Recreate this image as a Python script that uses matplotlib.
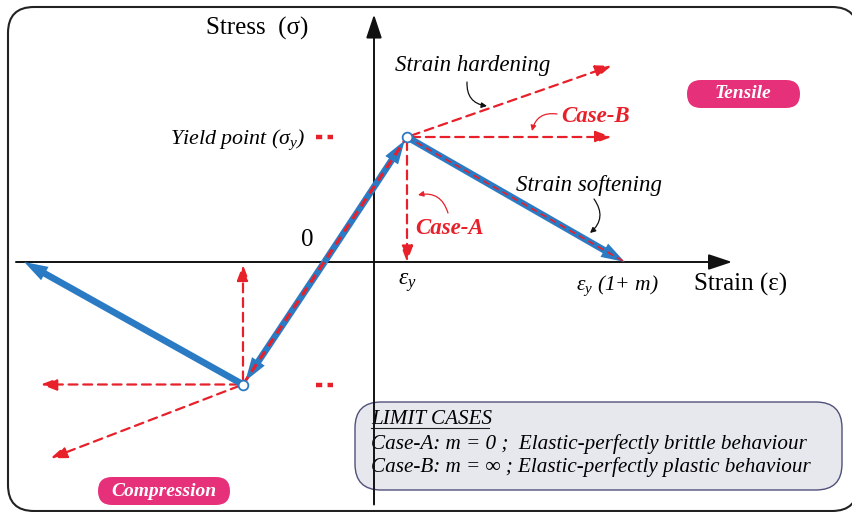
import matplotlib.pyplot as plt
from matplotlib.patches import FancyBboxPatch

plt.rcParams['font.family'] = ['Liberation Serif', 'DejaVu Serif']
plt.rcParams['mathtext.fontset'] = 'custom'
plt.rcParams['mathtext.rm'] = 'Liberation Serif'
plt.rcParams['mathtext.it'] = 'Liberation Serif:italic'

BLUE = '#2a7bc4'
RED = '#e8202a'
PINK = '#e6307a'

# strain in units of eps_y, stress in units of sigma_y
eps_y = 1.0
sig_y = 1.0
m = 6.6
eps_soft_end = eps_y * (1 + m)

comp_point = (-3.97, -0.98)
elastic_cross = (-1.5, 0.0)
comp_soft_end = (-10.6, 0.0)
caseB_end = (7.2, sig_y)
harden_end = (7.2, 1.57)
comp_caseB_end = (-10.1, -0.98)
comp_harden_end = (-9.8, -1.57)
comp_caseA_end = (-3.97, -0.02)

x_axis = (-10.85, 10.85)
y_axis = (-1.94, 1.98)
yield_tick = (-1.76, -1.24)

fig = plt.figure(figsize=(8.52, 5.12), dpi=100)

# decoration layer in picture pixels
deco = fig.add_axes([0, 0, 1, 1])
deco.set_xlim(0, 852)
deco.set_ylim(512, 0)
deco.axis('off')

ax = fig.add_axes([0, 0, 1, 1])
ax.set_xlim(-374 / 33, (852 - 374) / 33)
ax.set_ylim(-(512 - 262) / 125, 262 / 125)
ax.axis('off')
ax.patch.set_alpha(0)

# frame
deco.add_patch(FancyBboxPatch((8, 7), 850, 504, boxstyle='round,pad=0,rounding_size=26',
                              fc='white', ec='#222222', lw=1.5))

# axes
for xy, xytext in [((x_axis[1], 0), (x_axis[0], 0)), ((0, y_axis[1]), (0, y_axis[0]))]:
    ax.annotate('', xy=xy, xytext=xytext,
                arrowprops=dict(arrowstyle='-|>,head_length=0.9,head_width=0.3',
                                color='#111111', lw=1.4, mutation_scale=16,
                                shrinkA=0, shrinkB=0))

red_dash = (0, (4, 2.6))


def red_arrow(start, end):
    ax.annotate('', xy=end, xytext=start,
                arrowprops=dict(arrowstyle='-|>,head_length=0.8,head_width=0.3', color=RED,
                                lw=1.6, linestyle=red_dash, mutation_scale=12,
                                shrinkA=3, shrinkB=0))


# dashed limit branches
red_arrow((eps_y, sig_y), (eps_y, 0))
red_arrow((eps_y, sig_y), caseB_end)
red_arrow((eps_y, sig_y), harden_end)
red_arrow(comp_point, comp_caseA_end)
red_arrow(comp_point, comp_caseB_end)
red_arrow(comp_point, comp_harden_end)


def blue_arrow(start, end, shrink_end=0):
    ax.annotate('', xy=end, xytext=start,
                arrowprops=dict(arrowstyle='simple,head_length=0.85,head_width=0.55,'
                                           'tail_width=0.24',
                                fc=BLUE, ec='none', lw=0, mutation_scale=20,
                                shrinkA=0, shrinkB=shrink_end))


# blue main path
blue_arrow(elastic_cross, (eps_y, sig_y), shrink_end=3)
blue_arrow(elastic_cross, comp_point, shrink_end=3)
blue_arrow((eps_y, sig_y), (eps_soft_end, 0))
blue_arrow(comp_point, comp_soft_end)

# red overlay on the blue path
ax.plot([comp_point[0], eps_y], [comp_point[1], sig_y], color=RED, lw=2.2,
        linestyle=(0, (3, 2)), zorder=4)
ax.plot([eps_y, eps_soft_end], [sig_y, 0], color=RED, lw=1.2, linestyle=red_dash, zorder=4)

# yield level ticks
for level in (sig_y, comp_point[1]):
    ax.plot(yield_tick, [level, level], color=RED, lw=3.2, linestyle=(0, (1.4, 1.2)),
            solid_capstyle='butt', dash_capstyle='butt')

ax.plot([eps_y, comp_point[0]], [sig_y, comp_point[1]], 'o', ms=7, mfc='white',
        mec=BLUE, mew=1.3, linestyle='none', zorder=5)

# labels
deco.text(257, 28, 'Stress  (σ)', fontsize=18, ha='center', va='center')
deco.text(694, 284, 'Strain (ε)', fontsize=18, ha='left', va='center')
deco.text(307, 240, '0', fontsize=18, ha='center', va='center')
deco.text(306, 140, r'Yield point ($\sigma_y$)', fontsize=15.8, style='italic',
          ha='right', va='center')
deco.text(395, 65, 'Strain hardening', fontsize=16.5, style='italic', ha='left', va='center')
deco.text(516, 185, 'Strain softening', fontsize=16.5, style='italic', ha='left', va='center')
deco.text(561, 116, 'Case-B', fontsize=16.5, style='italic', weight='bold', color=RED,
          ha='left', va='center')
deco.text(415, 229, 'Case-A', fontsize=16.5, style='italic', weight='bold', color=RED,
          ha='left', va='center')
deco.text(398, 283, r'$\varepsilon_y$', fontsize=17, ha='left', va='center')
deco.text(576, 286, r'$\varepsilon_y$ (1+ m)', fontsize=15.5, style='italic',
          ha='left', va='center')


# curved pointers
def pointer(start, end, rad, color):
    deco.annotate('', xy=end, xytext=start,
                  arrowprops=dict(arrowstyle='-|>', color=color, lw=0.9, mutation_scale=8,
                                  connectionstyle=f'arc3,rad={rad}', shrinkA=0, shrinkB=0))


pointer((467, 82), (487, 106), 0.45, '#111111')
pointer((594, 199), (590, 233), -0.45, '#111111')
pointer((557, 114), (532, 131), 0.45, RED)
pointer((448, 213), (418, 195), 0.45, RED)

# tags
deco.add_patch(FancyBboxPatch((687, 80), 113, 28, boxstyle='round,pad=0,rounding_size=14',
                              fc=PINK, ec='none'))
deco.text(743, 94, 'Tensile', fontsize=14, style='italic', weight='bold', color='white',
          ha='center', va='center')
deco.add_patch(FancyBboxPatch((98, 477), 132, 28, boxstyle='round,pad=0,rounding_size=14',
                              fc=PINK, ec='none'))
deco.text(164, 491, 'Compression', fontsize=14, style='italic', weight='bold', color='white',
          ha='center', va='center')

# limit cases box
deco.add_patch(FancyBboxPatch((355, 402), 487, 88, boxstyle='round,pad=0,rounding_size=26',
                              fc='#e6e8ee', ec='#50507a', lw=1.0, zorder=3))
deco.text(371, 419, 'LIMIT CASES', fontsize=15.2, style='italic', ha='left', va='center',
          zorder=4)
deco.plot([371, 489], [428, 428], color='#222222', lw=0.8, zorder=4)
deco.text(371, 444, 'Case-A: m = 0 ;  Elastic-perfectly brittle behaviour', fontsize=15.2,
          style='italic', ha='left', va='center', zorder=4)
deco.text(371, 467, 'Case-B: m = ∞ ; Elastic-perfectly plastic behaviour', fontsize=15.2,
          style='italic', ha='left', va='center', zorder=4)

fig.savefig('out.png', dpi=100)
